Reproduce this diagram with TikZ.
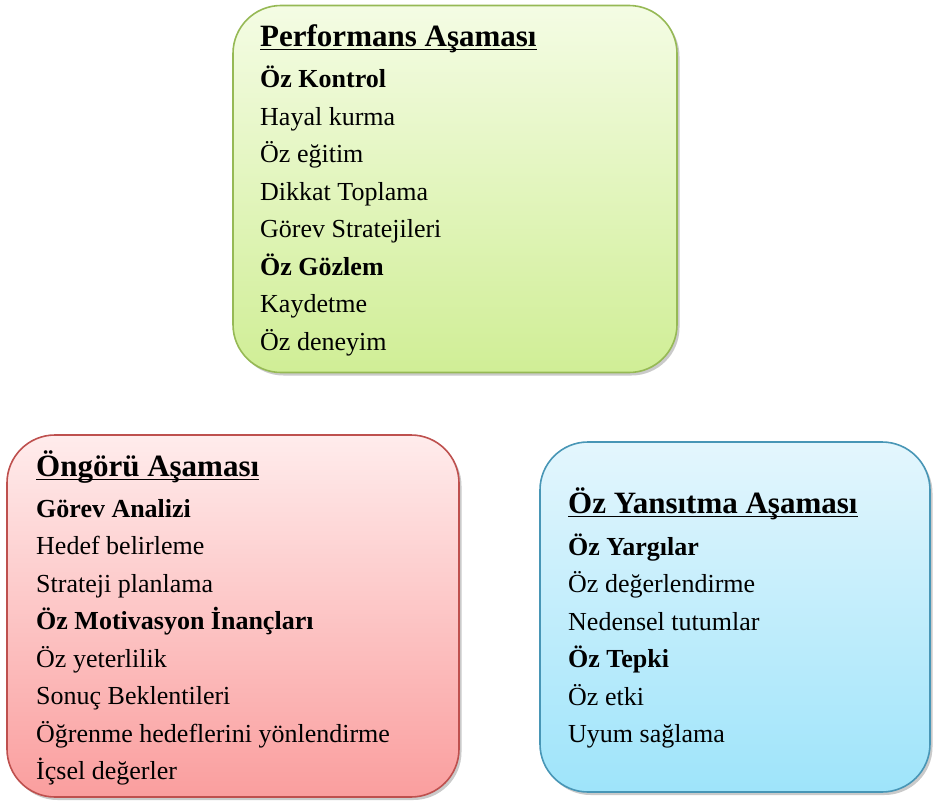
\documentclass[tikz,border=0pt]{standalone}
\usepackage{fontspec}
\setmainfont{Liberation Serif}
\usetikzlibrary{shadows}
\definecolor{gborder}{RGB}{150,185,85}
\definecolor{gtop}{RGB}{244,252,228}
\definecolor{gbot}{RGB}{208,238,150}
\definecolor{rborder}{RGB}{190,80,78}
\definecolor{rtop}{RGB}{255,236,236}
\definecolor{rbot}{RGB}{250,158,158}
\definecolor{bborder}{RGB}{72,150,182}
\definecolor{btop}{RGB}{228,246,253}
\definecolor{bbot}{RGB}{158,228,250}
\tikzset{
  phasebox/.style={rectangle, rounded corners=48pt, line width=1.6pt, inner sep=0pt, outer sep=0pt,
    drop shadow={shadow xshift=2.5pt, shadow yshift=-3pt, opacity=0.35, fill=black!60}},
  greenbox/.style={phasebox, draw=gborder, top color=gtop, bottom color=gbot},
  redbox/.style={phasebox, draw=rborder, top color=rtop, bottom color=rbot},
  bluebox/.style={phasebox, draw=bborder, top color=btop, bottom color=bbot},
  ttl/.style={anchor=base west, inner sep=0pt, font=\fontsize{31}{31}\selectfont\bfseries},
  uline/.style={line width=1.6pt, black},
  bitem/.style={anchor=base west, inner sep=0pt, font=\fontsize{26}{26}\selectfont\bfseries},
  item/.style={anchor=base west, inner sep=0pt, font=\fontsize{26}{26}\selectfont}
}
\begin{document}
\begin{tikzpicture}[x=1pt,y=-1pt]
\useasboundingbox (0,0) rectangle (935,803);
% Performans box
\node[greenbox, minimum width=444pt, minimum height=367pt] (perf) at (455,189) {};
\node[ttl] (p0) at (260,46) {Performans Aşaması};
\draw[uline] ([yshift=-3.5pt]p0.base west) -- ([yshift=-3.5pt]p0.base east);
\node[bitem] (p1) at (260,87) {Öz Kontrol};
\node[item] (p2) at (260,125) {Hayal kurma};
\node[item] (p3) at (260,162.5) {Öz eğitim};
\node[item] (p4) at (260,200) {Dikkat Toplama};
\node[item] (p5) at (260,237.5) {Görev Stratejileri};
\node[bitem] (p6) at (260,275) {Öz Gözlem};
\node[item] (p7) at (260,312.5) {Kaydetme};
\node[item] (p8) at (260,350) {Öz deneyim};
% Ongoru box
\node[redbox, minimum width=452pt, minimum height=362pt] (ong) at (233,616) {};
\node[ttl] (o0) at (36,476) {Öngörü Aşaması};
\draw[uline] ([yshift=-3.5pt]o0.base west) -- ([yshift=-3.5pt]o0.base east);
\node[bitem] (o1) at (36,517) {Görev Analizi};
\node[item] (o2) at (36,554.5) {Hedef belirleme};
\node[item] (o3) at (36,592) {Strateji planlama};
\node[bitem] (o4) at (36,629.5) {Öz Motivasyon İnançları};
\node[item] (o5) at (36,667) {Öz yeterlilik};
\node[item] (o6) at (36,704.5) {Sonuç Beklentileri};
\node[item] (o7) at (36,742) {Öğrenme hedeflerini yönlendirme};
\node[item] (o8) at (36,779.5) {İçsel değerler};
% Oz yansitma box
\node[bluebox, minimum width=390pt, minimum height=350pt] (oy) at (735,617) {};
\node[ttl] (y0) at (568,513) {Öz Yansıtma Aşaması};
\draw[uline] ([yshift=-3.5pt]y0.base west) -- ([yshift=-3.5pt]y0.base east);
\node[bitem] (y1) at (568,555) {Öz Yargılar};
\node[item] (y2) at (568,592.5) {Öz değerlendirme};
\node[item] (y3) at (568,630) {Nedensel tutumlar};
\node[bitem] (y4) at (568,667.5) {Öz Tepki};
\node[item] (y5) at (568,705) {Öz etki};
\node[item] (y6) at (568,742.5) {Uyum sağlama};
\end{tikzpicture}
\end{document}
